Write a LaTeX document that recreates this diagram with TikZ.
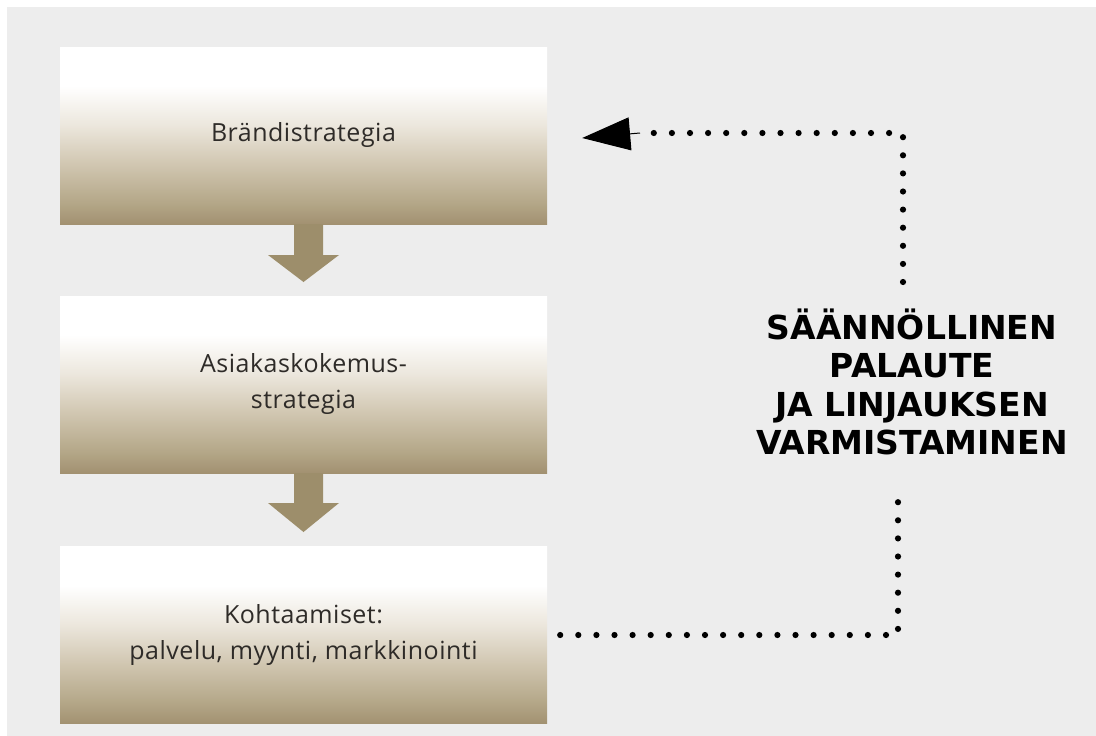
\documentclass[tikz,border=0pt]{standalone}
\usepackage{fontspec}
\setmainfont{Open Sans}[LetterSpace=2]
\newfontfamily\boldlabel{DejaVu Sans}
\usetikzlibrary{arrows.meta,calc}
\definecolor{bggray}{HTML}{EDEDED}
\definecolor{tanbot}{HTML}{A29171}
\definecolor{tanlow}{HTML}{B4A788}
\definecolor{tanmid}{HTML}{D2C8B3}
\definecolor{tanhigh}{HTML}{ECE7DD}
\definecolor{arrowtan}{HTML}{9D8E6B}
\definecolor{boxtext}{HTML}{2E2B28}
\pgfdeclareverticalshading{boxshade}{100bp}{
  color(0bp)=(tanbot); color(25bp)=(tanbot); color(31bp)=(tanlow); color(42.5bp)=(tanmid);
  color(53bp)=(tanhigh); color(64bp)=(white); color(100bp)=(white)}
\tikzset{
  stepbox/.style={minimum width=487pt, minimum height=177pt, inner sep=0pt,
    shading=boxshade, align=center, text=boxtext,
    font=\fontsize{25}{36}\selectfont},
  flowarrow/.style={fill=arrowtan, draw=none},
  dotline/.style={line width=6.2pt, line cap=round, dash pattern=on 0pt off 18.1pt, black},
  feedbacklabel/.style={align=center, font=\boldlabel\bfseries\fontsize{33}{38.5}\selectfont, text=black, inner sep=0pt}
}
\begin{document}
\begin{tikzpicture}[x=1pt,y=-1pt]
\useasboundingbox (0,0) rectangle (1096,736);
\fill[white] (0,0) rectangle (1096,736);
\fill[bggray] (7,7) rectangle (1096,736);
% boxes
\node[stepbox] (b1) at (303.5,135.5) {Brändistrategia};
\node[stepbox] (b2) at (303.5,384.5) {Asiakaskokemus-\\strategia};
\node[stepbox] (b3) at (303.5,635) {Kohtaamiset:\\palvelu, myynti, markkinointi};
% block arrows
\fill[flowarrow] (b1.south -| 294,0) -- (294,255) -- (268,255) -- (303.5,282) -- (339,255) -- (323,255) -- (b1.south -| 323,0) -- cycle;
\fill[flowarrow] (b2.south -| 294,0) -- (294,503) -- (268,503) -- (303.5,532) -- (339,503) -- (323,503) -- (b2.south -| 323,0) -- cycle;
% feedback label
\node[feedbacklabel] (t) at (912,382) {SÄÄNNÖLLINEN\\PALAUTE\\JA LINJAUKSEN\\VARMISTAMINEN};
% feedback dotted connector
\coordinate (c1) at (898,635);
\coordinate (c2) at (898,487);
\coordinate (c3) at (903,282);
\coordinate (c4) at (903,133);
\coordinate (c5) at (640,133);
\draw[dotline] ([xshift=13pt]b3.east) -- (c1) -- (c2);
\draw[dotline] (c3) -- (c4) -- (c5);
\draw[line width=1pt, -{Triangle[length=48pt,width=33pt]}] (c5) -- ([xshift=35pt,yshift=-2.5pt]b1.east);
\end{tikzpicture}
\end{document}
